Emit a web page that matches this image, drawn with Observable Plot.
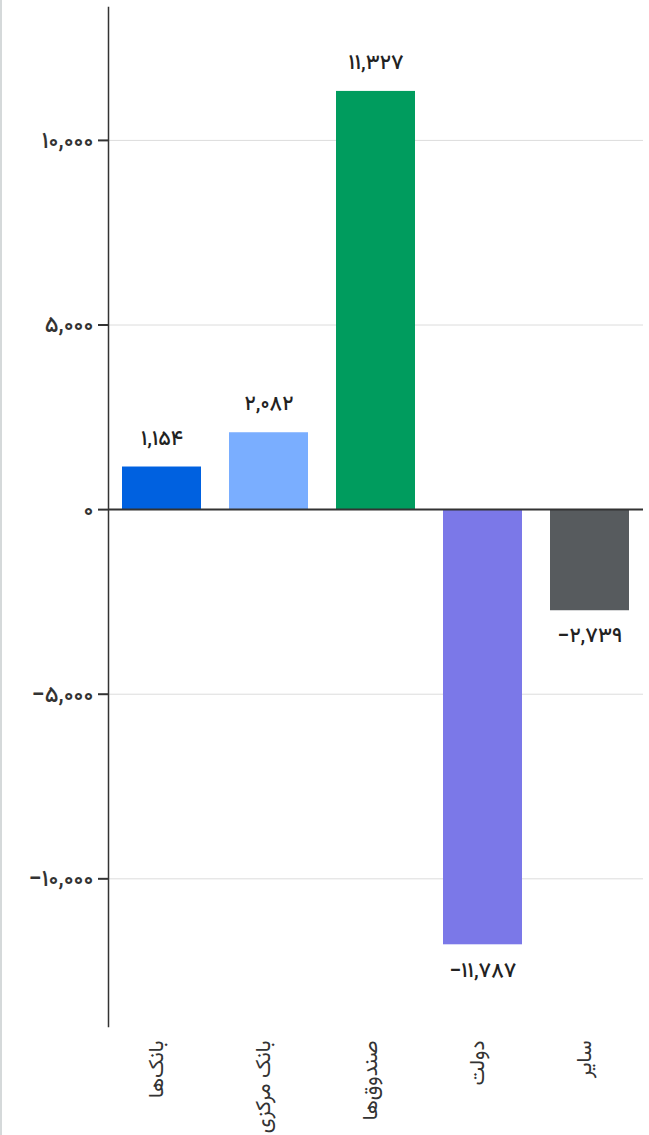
<!DOCTYPE html>
<html>
<head>
<meta charset="utf-8">
<script src="https://cdn.jsdelivr.net/npm/d3@7"></script>
<script src="https://cdn.jsdelivr.net/npm/@observablehq/plot@0.6"></script>
<style>
  html, body { margin: 0; padding: 0; background: #fff; }
  body { border-left: 2px solid #d5d9da; width: 647px; overflow: hidden; }
  #chart svg { display: block; }
  #chart svg text { font-variant: normal !important; font-variant-numeric: normal !important; }
</style>
</head>
<body>
<div id="chart"></div>
<script>
const categories = ["بانک‌ها", "بانک مرکزی", "صندوق‌ها", "دولت", "سایر"];
const values = [1154, 2082, 11327, -11787, -2739];
const colors = ["#0061e0", "#7aaeff", "#009c5e", "#7b78e8", "#575b5e"];
const yTicks = [-10000, -5000, 0, 5000, 10000];

const faDigits = "۰۱۲۳۴۵۶۷۸۹";
const fa = s => s.replace(/\d/g, d => faDigits[d]);
const fmt = v => fa(d3.format(",")(v));

const data = categories.map((c, i) => ({category: c, value: values[i], color: colors[i]}));

const chart = Plot.plot({
  width: 647,
  height: 1135,
  marginTop: 7,
  marginBottom: 109,
  marginLeft: 106,
  marginRight: 6,
  style: {fontFamily: "Vazirmatn, sans-serif", color: "#333", background: "#fff", fontVariant: "normal"},
  x: {domain: categories, paddingInner: 0.26, paddingOuter: 0.13, label: null},
  y: {domain: [-14000, 13600], label: null},
  marks: [
    Plot.gridY(yTicks, {stroke: "#dcdcdc", strokeOpacity: 1, strokeWidth: 1}),
    Plot.barY(data, {x: "category", y: "value", fill: "color"}),
    Plot.ruleY([0], {stroke: "#333", strokeWidth: 2}),
    Plot.frame({anchor: "left", stroke: "#333", strokeWidth: 1.5}),
    Plot.axisY({ticks: yTicks, tickFormat: fmt, tickSize: 10, tickPadding: 5, fontSize: 23, fontWeight: 500, stroke: "#333", strokeWidth: 2, fill: "#333", fontVariant: "normal"}),
    Plot.axisX({tickSize: 0, tickRotate: -90, tickPadding: 14, fontSize: 21, fill: "#333", dx: -6}),
    Plot.text(data.filter(d => d.value >= 0), {x: "category", y: "value", text: d => fmt(d.value), dy: -29, fontSize: 21, fontWeight: 500, fill: "#222"}),
    Plot.text(data.filter(d => d.value < 0), {x: "category", y: "value", text: d => fmt(d.value), dy: 25, fontSize: 21, fontWeight: 500, fill: "#222"})
  ]
});
// render the minus sign with a wider glyph, as in the reference
chart.querySelectorAll("text").forEach(t => {
  const s = t.textContent;
  if (s.startsWith("−") && t.children.length === 0) {
    t.textContent = "";
    const ts = document.createElementNS("http://www.w3.org/2000/svg", "tspan");
    ts.setAttribute("font-family", "Roboto");
    ts.setAttribute("font-weight", "700");
    ts.textContent = "−";
    t.appendChild(ts);
    t.appendChild(document.createTextNode(s.slice(1)));
  }
});
document.getElementById("chart").appendChild(chart);
</script>
</body>
</html>
